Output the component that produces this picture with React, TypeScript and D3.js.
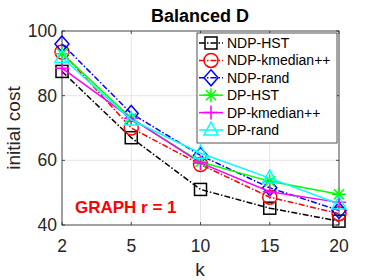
import React from "react";
import * as d3 from "d3";

const kLabels = ["2", "5", "10", "15", "20"];
const yTicks = [40, 60, 80, 100];

const ndpHst = [87.5, 67, 51, 45.2, 41.2];
const ndpKmedian = [93.5, 70, 58.7, 48.6, 43.5];
const ndpRand = [96, 74.5, 61.5, 51.5, 44.5];
const dpHst = [93, 73, 59.5, 53.5, 49.5];
const dpKmedian = [88.5, 73, 59.2, 50.3, 47];
const dpRand = [91.8, 72.5, 62.2, 54.5, 46.5];

const series = [
  { name: "NDP-HST", values: ndpHst, color: "#000000", dash: "6,2,1.5,2", marker: "square" },
  { name: "NDP-kmedian++", values: ndpKmedian, color: "#ff0000", dash: "6,2,1.5,2", marker: "circle" },
  { name: "NDP-rand", values: ndpRand, color: "#0000ff", dash: "6,2,1.5,2", marker: "diamond" },
  { name: "DP-HST", values: dpHst, color: "#00ff00", dash: "", marker: "star" },
  { name: "DP-kmedian++", values: dpKmedian, color: "#ff00ff", dash: "", marker: "plus" },
  { name: "DP-rand", values: dpRand, color: "#00ffff", dash: "", marker: "triangle" },
];

function Marker({ type, x, y, color }: { type: string; x: number; y: number; color: string }) {
  const s = 7;
  const common = { fill: "none", stroke: color, strokeWidth: 1.5 };
  if (type === "square") return <rect x={x - s + 1} y={y - s + 1} width={2 * s - 2} height={2 * s - 2} {...common} />;
  if (type === "circle") return <circle cx={x} cy={y} r={s} {...common} />;
  if (type === "diamond")
    return <path d={`M${x},${y - s - 1}L${x + s},${y}L${x},${y + s + 1}L${x - s},${y}Z`} {...common} />;
  if (type === "triangle")
    return <path d={`M${x},${y - s - 1}L${x + s},${y + s - 2}L${x - s},${y + s - 2}Z`} {...common} />;
  if (type === "plus")
    return <path d={`M${x - s},${y}H${x + s}M${x},${y - s}V${y + s}`} {...common} />;
  // star: plus + x
  const d = s * 0.72;
  return (
    <path
      d={`M${x - s},${y}H${x + s}M${x},${y - s}V${y + s}M${x - d},${y - d}L${x + d},${y + d}M${x - d},${y + d}L${x + d},${y - d}`}
      {...common}
    />
  );
}

export default function App() {
  const width = 374;
  const height = 280;
  const margin = { top: 31, right: 35, bottom: 55, left: 62 };
  const x = d3.scalePoint().domain(kLabels).range([margin.left, width - margin.right]);
  const y = d3.scaleLinear().domain([40, 100]).range([height - margin.bottom, margin.top]);
  const axisColor = "#262626";
  const font = "Liberation Sans, Arial, sans-serif";
  const x0 = margin.left;
  const x1 = width - margin.right;
  const y0 = height - margin.bottom;
  const y1 = margin.top;

  const line = d3
    .line<number>()
    .x((_, i) => x(kLabels[i]) as number)
    .y((d) => y(d));

  const legX = 197;
  const legY = 33;
  const legRow = 17.4;

  return (
    <svg width={width} height={height} style={{ position: "absolute", left: 0, top: 0, background: "#fff" }} fontFamily={font}>
      <rect x={0} y={0} width={width} height={height} fill="#fff" />
      {/* grid */}
      {kLabels.map((k) => (
        <line key={"gx" + k} x1={x(k)} x2={x(k)} y1={y0} y2={y1} stroke="#e6e6e6" strokeWidth={1} />
      ))}
      {yTicks.map((t) => (
        <line key={"gy" + t} x1={x0} x2={x1} y1={y(t)} y2={y(t)} stroke="#e6e6e6" strokeWidth={1} />
      ))}
      {/* box */}
      <rect x={x0} y={y1} width={x1 - x0} height={y0 - y1} fill="none" stroke={axisColor} strokeWidth={0.8} />
      {kLabels.map((k) => (
        <g key={"tx" + k}>
          <line x1={x(k)} x2={x(k)} y1={y0} y2={y0 - 3} stroke={axisColor} strokeWidth={0.8} />
          <line x1={x(k)} x2={x(k)} y1={y1} y2={y1 + 3} stroke={axisColor} strokeWidth={0.8} />
          <text x={x(k)} y={y0 + 27} textAnchor="middle" fontSize={17.5} fill={axisColor}>
            {k}
          </text>
        </g>
      ))}
      {yTicks.map((t) => (
        <g key={"ty" + t}>
          <line x1={x0} x2={x0 + 3} y1={y(t)} y2={y(t)} stroke={axisColor} strokeWidth={0.8} />
          <line x1={x1} x2={x1 - 3} y1={y(t)} y2={y(t)} stroke={axisColor} strokeWidth={0.8} />
          <text x={x0 - 5} y={y(t) + 6} textAnchor="end" fontSize={17.5} fill={axisColor}>
            {t}
          </text>
        </g>
      ))}
      {/* series */}
      {series.map((s) => (
        <g key={s.name}>
          <path d={line(s.values) as string} fill="none" stroke={s.color} strokeWidth={1.5} strokeDasharray={s.dash} />
          {s.values.map((v, i) => (
            <Marker key={i} type={s.marker} x={x(kLabels[i]) as number} y={y(v)} color={s.color} />
          ))}
        </g>
      ))}
      {/* annotation */}
      <text x={75} y={213} fontSize={17} fontWeight="bold" fill="#ff0000">
        GRAPH r = 1
      </text>
      {/* legend */}
      <rect x={legX} y={legY} width={140} height={110} fill="#fff" stroke={axisColor} strokeWidth={0.8} />
      {series.map((s, i) => {
        const cy = legY + 10 + i * legRow;
        return (
          <g key={"leg" + s.name}>
            <line x1={legX + 2} x2={legX + 26} y1={cy} y2={cy} stroke={s.color} strokeWidth={1.5} strokeDasharray={s.dash} />
            <Marker type={s.marker} x={legX + 14} y={cy} color={s.color} />
            <text x={legX + 30} y={cy + 5} fontSize={14} fill="#000">
              {s.name}
            </text>
          </g>
        );
      })}
      {/* labels */}
      <text x={200} y={22} textAnchor="middle" fontSize={18} fontWeight="bold" fill="#000">
        Balanced D
      </text>
      <text x={200} y={276} textAnchor="middle" fontSize={19} fill={axisColor}>
        k
      </text>
      <text transform={`translate(20,${(y0 + y1) / 2}) rotate(-90)`} textAnchor="middle" fontSize={19} fill={axisColor}>
        initial cost
      </text>
    </svg>
  );
}
